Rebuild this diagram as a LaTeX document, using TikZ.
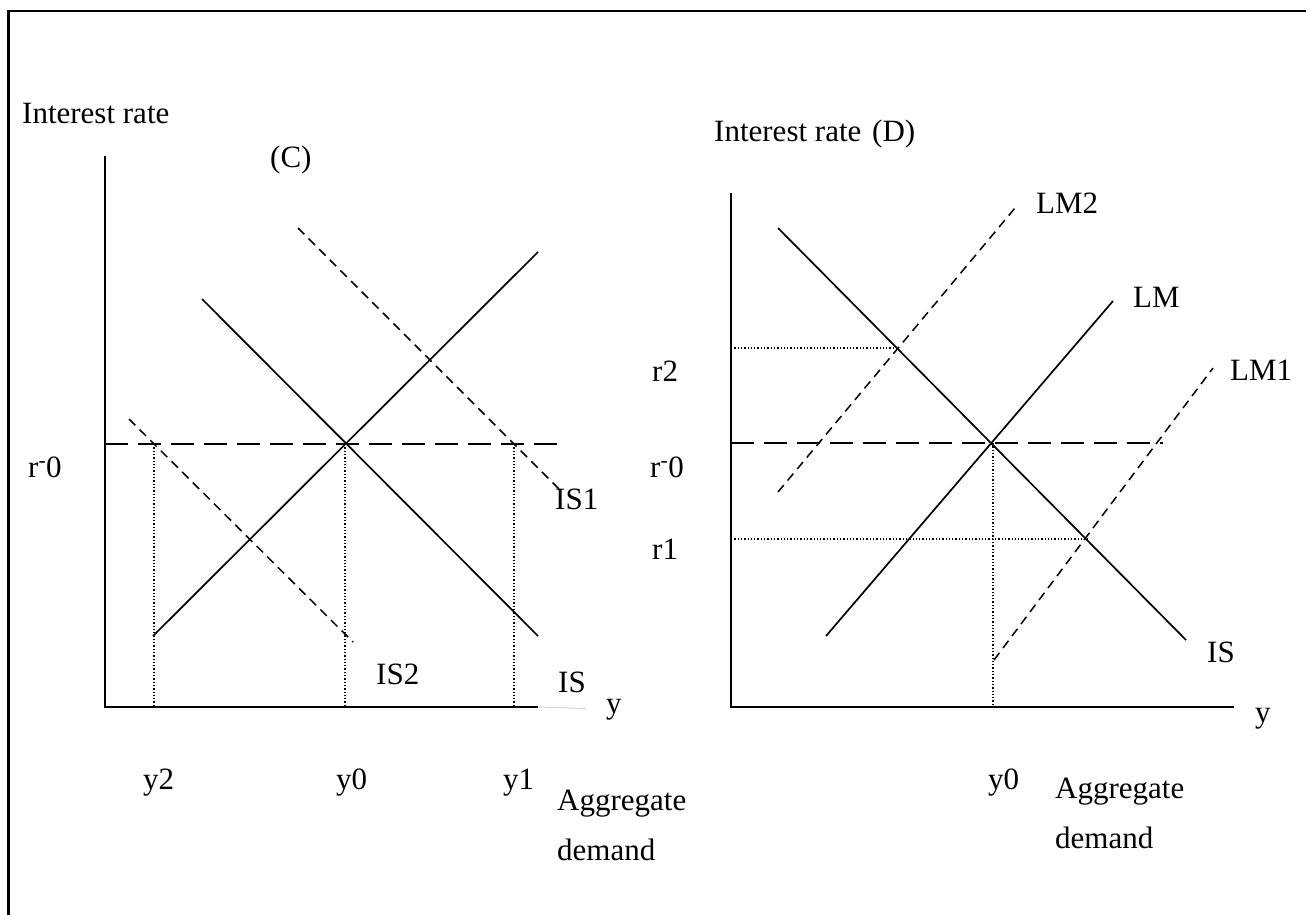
\documentclass[tikz,border=0pt]{standalone}
\usepackage{fontspec}
\setmainfont{Liberation Serif}
\begin{document}
\begin{tikzpicture}[x=1pt,y=-1pt,
  axisline/.style={line width=2.4pt},
  curveline/.style={line width=1.7pt},
  shiftline/.style={line width=1.5pt, dash pattern=on 9pt off 6pt},
  levelline/.style={line width=2.8pt, dash pattern=on 23pt off 10pt},
  guideline/.style={line width=1.3pt, dash pattern=on 1.3pt off 2pt},
  framebox/.style={line width=2.4pt},
  lbl/.style={anchor=base west, inner sep=0pt, font=\fontsize{31}{36}\selectfont}]
\useasboundingbox (0,0) rectangle (1306,915);
% frame
\coordinate (fa) at (8.5,915);
\coordinate (fb) at (8.5,11);
\coordinate (fc) at (1306,11);
\draw[framebox] (fa) -- (fb) -- (fc);

% ===== Panel C =====
\coordinate (cO) at (105,707);
\coordinate (cT) at (105,156);
\coordinate (cX) at (538,707);
\coordinate (cXg) at (586,708.5);
\coordinate (cE) at (345,444);
\coordinate (cR0a) at (105,444);
\coordinate (cR0b) at (565,444);
\coordinate (cLMa) at (153,636);
\coordinate (cLMb) at (538,252);
\coordinate (cISa) at (202,299);
\coordinate (cISb) at (538,636);
\coordinate (cIS1a) at (298,228);
\coordinate (cIS1b) at (560,490);
\coordinate (cIS2a) at (129,419);
\coordinate (cIS2b) at (353,642);
\coordinate (cy2t) at (154,444);
\coordinate (cy2b) at (154,707);
\coordinate (cy0b) at (345,707);
\coordinate (cy1t) at (514,444);
\coordinate (cy1b) at (514,707);

\draw[axisline] (cT) -- (cO) -- (cX);
\draw[line width=0.8pt, black!20] (cX) -- (cXg);
\draw[guideline] (cy2t) -- (cy2b);
\draw[guideline] (cE) -- (cy0b);
\draw[guideline] (cy1t) -- (cy1b);
\draw[levelline] (cR0a) -- (cR0b);
\draw[curveline] (cLMa) -- (cLMb);
\draw[curveline] (cISa) -- (cISb);
\draw[shiftline] (cIS1a) -- (cIS1b);
\draw[shiftline] (cIS2a) -- (cIS2b);

\node[lbl] (cInt) at (22,124) {Interest rate};
\node[lbl] (cTitle) at (270,167) {(C)};
\node[lbl] (cR0) at (28,477) {r\textsuperscript{-}0};
\node[lbl] (cIS1) at (555,509) {IS1};
\node[lbl] (cIS2) at (376,684) {IS2};
\node[lbl] (cIS) at (558,692) {IS};
\node[lbl] (cy) at (606,713) {y};
\node[lbl] (cy2) at (143,789) {y2};
\node[lbl] (cy0) at (336,789) {y0};
\node[lbl] (cy1) at (503,789) {y1};
\node[lbl] (cAgg) at (557,810) {Aggregate};
\node[lbl] (cDem) at (557,860) {demand};

% ===== Panel D =====
\coordinate (dO) at (731,707);
\coordinate (dT) at (731,193);
\coordinate (dX) at (1234,707);
\coordinate (dE) at (993,443);
\coordinate (dR0a) at (731,443);
\coordinate (dR0b) at (1163,443);
\coordinate (dISa) at (778,228);
\coordinate (dISb) at (1186,640);
\coordinate (dLMa) at (826,636);
\coordinate (dLMb) at (1113,301);
\coordinate (dLM2a) at (778,492);
\coordinate (dLM2b) at (1015,208);
\coordinate (dLM1a) at (994,660);
\coordinate (dLM1b) at (1213,368);
\coordinate (dr2a) at (731,348);
\coordinate (dr2b) at (898,348);
\coordinate (dr1a) at (731,539);
\coordinate (dr1b) at (1088,539);
\coordinate (dy0b) at (993,707);

\draw[axisline, line width=2pt] (dT) -- (dO) -- (dX);
\draw[guideline] (dr2a) -- (dr2b);
\draw[guideline] (dr1a) -- (dr1b);
\draw[guideline] (dE) -- (dy0b);
\draw[levelline] (dR0a) -- (dR0b);
\draw[curveline] (dISa) -- (dISb);
\draw[curveline] (dLMa) -- (dLMb);
\draw[shiftline] (dLM2a) -- (dLM2b);
\draw[shiftline] (dLM1a) -- (dLM1b);

\node[lbl] (dInt) at (714,142) {Interest rate};
\node[lbl] (dTitle) at (872,142) {(D)};
\node[lbl] (dLM2) at (1036,213) {LM2};
\node[lbl] (dLM) at (1133,307) {LM};
\node[lbl] (dr2) at (652,381) {r2};
\node[lbl] (dLM1) at (1230,380) {LM1};
\node[lbl] (dR0) at (650,477) {r\textsuperscript{-}0};
\node[lbl] (dr1) at (652,559) {r1};
\node[lbl] (dIS) at (1207,662) {IS};
\node[lbl] (dy) at (1255,722) {y};
\node[lbl] (dy0) at (988,789) {y0};
\node[lbl] (dAgg) at (1055,798) {Aggregate};
\node[lbl] (dDem) at (1055,848) {demand};
\end{tikzpicture}
\end{document}
